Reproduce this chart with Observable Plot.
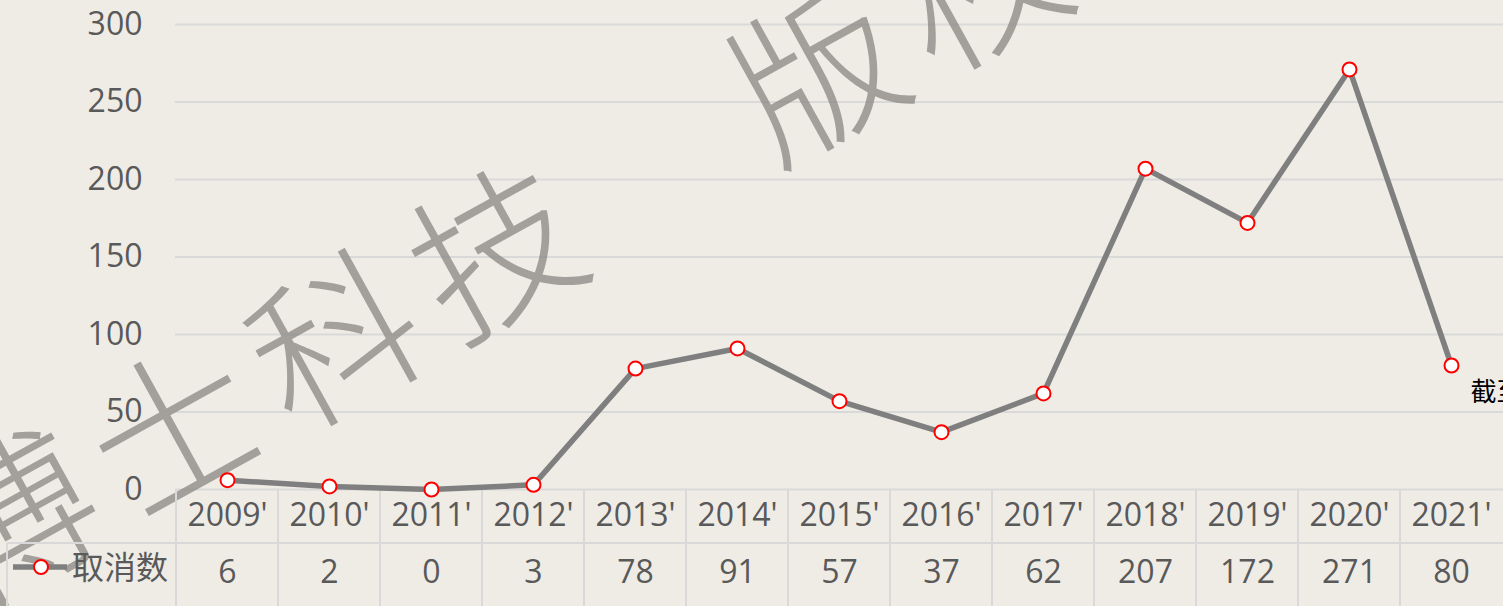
<!DOCTYPE html>
<html><head><meta charset="utf-8">
<script src="https://cdn.jsdelivr.net/npm/d3@7"></script>
<script src="https://cdn.jsdelivr.net/npm/@observablehq/plot@0.6"></script>
<style>
html,body{margin:0;padding:0;background:#efece6;overflow:hidden}
#chart{position:relative;width:1503px;height:606px}
</style></head><body><div id="chart"></div>
<script>
const years = ["2009'","2010'","2011'","2012'","2013'","2014'","2015'","2016'","2017'","2018'","2019'","2020'","2021'"];
const values = [6,2,0,3,78,91,57,37,62,207,172,271,80];
const yTicks = [0,50,100,150,200,250,300];
const seriesName = "取消数";
const note = "截至2021年";
const watermark = "博士科技　版权所有";

const data = years.map((y,i)=>({year:y, value:values[i]}));
const font = "'Open Sans','Noto Sans CJK SC',sans-serif";
const textColor = "#595959";

const plot = Plot.plot({
  width:1503, height:606,
  marginLeft:175, marginRight:0, marginTop:24, marginBottom:117,
  style:{background:"transparent", fontFamily: font, fontSize:"32px", color:textColor, overflow:"hidden"},
  x:{type:"band", domain:years, padding:0, axis:null, label:null},
  y:{domain:[0,300], axis:null, label:null},
  marks:[
    Plot.gridY(yTicks, {stroke:"#d9d9d9", strokeOpacity:1, strokeWidth:2}),
    Plot.axisY(yTicks, {tickSize:0, tickPadding:33, fontSize:32, fill:textColor, label:null, tickFormat:d=>String(d)}),
    Plot.axisX(years, {anchor:"bottom", tickSize:0, tickPadding:14, fontSize:32, fill:textColor, label:null}),
    Plot.line(data,{x:"year",y:"value",stroke:"#7f7f7f",strokeWidth:5.5}),
    Plot.dot(data,{x:"year",y:"value",r:7,fill:"white",stroke:"#ff0000",strokeWidth:2}),
    Plot.text(data,{x:"year", text:d=>String(d.value), frameAnchor:"bottom", dy:93, fontSize:32, fill:textColor}),
    Plot.text([data[data.length-1]],{x:"year", y:"value", text:()=>note, dx:19, dy:27, textAnchor:"start", fontSize:26, fill:"#000", fontFamily:"'Noto Sans CJK SC',sans-serif"})
  ]
});
document.getElementById("chart").appendChild(plot);

const svg = d3.select(plot);
const xs = plot.scale("x");
const ys = plot.scale("y");
const y0 = ys.apply(0);
const H = 606, W = 1503;
const tableLine = "#d9d9d9";

// watermark behind line
const wm = svg.insert("g", "[aria-label=line]");
wm.append("text")
  .attr("transform", `translate(-64,550) rotate(-29)`)
  .attr("text-anchor", "start")
  .attr("font-family", "'Noto Sans CJK SC',sans-serif")
  .attr("font-weight", 300)
  .attr("font-size", 165)
  .attr("letter-spacing", 19)
  .attr("fill", "#8a8782")
  .attr("fill-opacity", 0.75)
  .attr("dominant-baseline", "central")
  .text(watermark);

// table lines
const tl = svg.insert("g", "[aria-label=line]").attr("stroke", tableLine).attr("stroke-width", 2);
const row2 = y0 + 54;
years.forEach(yr => {
  const x = xs.apply(yr);
  tl.append("line").attr("x1", x).attr("x2", x).attr("y1", y0).attr("y2", H);
});
tl.append("line").attr("x1", 7).attr("x2", W).attr("y1", row2).attr("y2", row2);
tl.append("line").attr("x1", 7).attr("x2", 7).attr("y1", row2).attr("y2", H);

// legend in table
const lg = svg.append("g");
const ly = row2 + 24;
lg.append("line").attr("x1", 13).attr("x2", 67).attr("y1", ly).attr("y2", ly)
  .attr("stroke", "#7f7f7f").attr("stroke-width", 5.5);
lg.append("circle").attr("cx", 41).attr("cy", ly).attr("r", 7)
  .attr("fill", "white").attr("stroke", "#ff0000").attr("stroke-width", 2);
lg.append("text").attr("x", 72).attr("y", ly).attr("dy", "0.36em")
  .attr("text-anchor", "start")
  .attr("font-family", "'Noto Sans CJK SC',sans-serif").attr("font-size", 32)
  .attr("fill", textColor).text(seriesName);
</script></body></html>
